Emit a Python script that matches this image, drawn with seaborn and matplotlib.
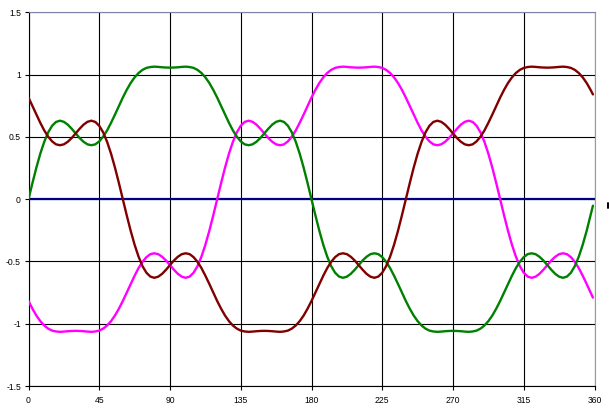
import matplotlib
matplotlib.use("Agg")
import matplotlib.pyplot as plt
import seaborn as sns
import pandas as pd
from matplotlib.lines import Line2D

# ---- data (angle step 2.5 degrees, last sample at 359) ----
angles = [i * 2.5 for i in range(144)] + [359]

green_vals = [
    0.000, 0.130, 0.254, 0.366, 0.461, 0.537, 0.590, 0.621, 0.631, 0.622, 0.599, 0.566,
    0.529, 0.492, 0.462, 0.441, 0.434, 0.441, 0.465, 0.503, 0.553, 0.614, 0.680, 0.749,
    0.817, 0.879, 0.934, 0.979, 1.014, 1.039, 1.055, 1.062, 1.065, 1.063, 1.060, 1.058,
    1.057, 1.058, 1.060, 1.063, 1.065, 1.062, 1.055, 1.039, 1.014, 0.979, 0.934, 0.879,
    0.817, 0.749, 0.680, 0.614, 0.553, 0.503, 0.465, 0.441, 0.434, 0.441, 0.462, 0.492,
    0.529, 0.566, 0.599, 0.622, 0.631, 0.621, 0.590, 0.537, 0.461, 0.366, 0.254, 0.130,
    0.000, -0.130, -0.254, -0.366, -0.461, -0.537, -0.590, -0.621, -0.631, -0.622, -0.599, -0.566,
    -0.529, -0.492, -0.462, -0.441, -0.434, -0.441, -0.465, -0.503, -0.553, -0.614, -0.680, -0.749,
    -0.817, -0.879, -0.934, -0.979, -1.014, -1.039, -1.055, -1.062, -1.065, -1.063, -1.060, -1.058,
    -1.057, -1.058, -1.060, -1.063, -1.065, -1.062, -1.055, -1.039, -1.014, -0.979, -0.934, -0.879,
    -0.817, -0.749, -0.680, -0.614, -0.553, -0.503, -0.465, -0.441, -0.434, -0.441, -0.462, -0.492,
    -0.529, -0.566, -0.599, -0.622, -0.631, -0.621, -0.590, -0.537, -0.461, -0.366, -0.254, -0.130,
    -0.052]

maroon_vals = [
    0.817, 0.749, 0.680, 0.614, 0.553, 0.503, 0.465, 0.441, 0.434, 0.441, 0.462, 0.492,
    0.529, 0.566, 0.599, 0.622, 0.631, 0.621, 0.590, 0.537, 0.461, 0.366, 0.254, 0.130,
    0.000, -0.130, -0.254, -0.366, -0.461, -0.537, -0.590, -0.621, -0.631, -0.622, -0.599, -0.566,
    -0.529, -0.492, -0.462, -0.441, -0.434, -0.441, -0.465, -0.503, -0.553, -0.614, -0.680, -0.749,
    -0.817, -0.879, -0.934, -0.979, -1.014, -1.039, -1.055, -1.062, -1.065, -1.063, -1.060, -1.058,
    -1.057, -1.058, -1.060, -1.063, -1.065, -1.062, -1.055, -1.039, -1.014, -0.979, -0.934, -0.879,
    -0.817, -0.749, -0.680, -0.614, -0.553, -0.503, -0.465, -0.441, -0.434, -0.441, -0.462, -0.492,
    -0.529, -0.566, -0.599, -0.622, -0.631, -0.621, -0.590, -0.537, -0.461, -0.366, -0.254, -0.130,
    0.000, 0.130, 0.254, 0.366, 0.461, 0.537, 0.590, 0.621, 0.631, 0.622, 0.599, 0.566,
    0.529, 0.492, 0.462, 0.441, 0.434, 0.441, 0.465, 0.503, 0.553, 0.614, 0.680, 0.749,
    0.817, 0.879, 0.934, 0.979, 1.014, 1.039, 1.055, 1.062, 1.065, 1.063, 1.060, 1.058,
    1.057, 1.058, 1.060, 1.063, 1.065, 1.062, 1.055, 1.039, 1.014, 0.979, 0.934, 0.879,
    0.842]

magenta_vals = [
    -0.817, -0.879, -0.934, -0.979, -1.014, -1.039, -1.055, -1.062, -1.065, -1.063, -1.060, -1.058,
    -1.057, -1.058, -1.060, -1.063, -1.065, -1.062, -1.055, -1.039, -1.014, -0.979, -0.934, -0.879,
    -0.817, -0.749, -0.680, -0.614, -0.553, -0.503, -0.465, -0.441, -0.434, -0.441, -0.462, -0.492,
    -0.529, -0.566, -0.599, -0.622, -0.631, -0.621, -0.590, -0.537, -0.461, -0.366, -0.254, -0.130,
    0.000, 0.130, 0.254, 0.366, 0.461, 0.537, 0.590, 0.621, 0.631, 0.622, 0.599, 0.566,
    0.529, 0.492, 0.462, 0.441, 0.434, 0.441, 0.465, 0.503, 0.553, 0.614, 0.680, 0.749,
    0.817, 0.879, 0.934, 0.979, 1.014, 1.039, 1.055, 1.062, 1.065, 1.063, 1.060, 1.058,
    1.057, 1.058, 1.060, 1.063, 1.065, 1.062, 1.055, 1.039, 1.014, 0.979, 0.934, 0.879,
    0.817, 0.749, 0.680, 0.614, 0.553, 0.503, 0.465, 0.441, 0.434, 0.441, 0.462, 0.492,
    0.529, 0.566, 0.599, 0.622, 0.631, 0.621, 0.590, 0.537, 0.461, 0.366, 0.254, 0.130,
    0.000, -0.130, -0.254, -0.366, -0.461, -0.537, -0.590, -0.621, -0.631, -0.622, -0.599, -0.566,
    -0.529, -0.492, -0.462, -0.441, -0.434, -0.441, -0.465, -0.503, -0.553, -0.614, -0.680, -0.749,
    -0.790]

x_ticks = [0, 45, 90, 135, 180, 225, 270, 315, 360]
x_tick_labels = ["0", "45", "90", "135", "180", "225", "270", "315", "360"]
y_ticks = [-1.5, -1, -0.5, 0, 0.5, 1, 1.5]
y_tick_labels = ["-1.5", "-1", "-0.5", "0", "0.5", "1", "1.5"]

# ---- styling ----
sns.set_theme(style="white")
plt.rcParams["font.family"] = ["Liberation Sans", "DejaVu Sans"]
plt.rcParams["axes.unicode_minus"] = False

fig = plt.figure(figsize=(6.09, 4.11), dpi=100)
ax = fig.add_axes([28.5 / 609, 1 - 386 / 411, (594.5 - 28.5) / 609, (386 - 12.5) / 411])
ax.set_facecolor("white")

df = pd.DataFrame({"x": angles, "green": green_vals, "maroon": maroon_vals, "magenta": magenta_vals})

ax.axhline(0, color="#000080", lw=1.6, zorder=2)
sns.lineplot(data=df, x="x", y="magenta", color="#FF00FF", lw=1.7, ax=ax, zorder=3)
sns.lineplot(data=df, x="x", y="green", color="#008000", lw=1.7, ax=ax, zorder=3)
sns.lineplot(data=df, x="x", y="maroon", color="#800000", lw=1.7, ax=ax, zorder=3)

ax.set_xlim(0, 360)
ax.set_ylim(-1.5, 1.5)
ax.set_xticks(x_ticks)
ax.set_xticklabels(x_tick_labels)
ax.set_yticks(y_ticks)
ax.set_yticklabels(y_tick_labels)
ax.set_xlabel("")
ax.set_ylabel("")

ax.grid(True, color="black", lw=0.8)
ax.set_axisbelow(True)

ax.tick_params(axis="both", which="major", labelsize=6.2, colors="black",
               length=3, width=0.8, direction="out")
ax.tick_params(axis="x", pad=4)
ax.tick_params(axis="y", pad=2.5)
ax.xaxis.set_ticks_position("bottom")
ax.yaxis.set_ticks_position("left")

for side in ["left", "bottom"]:
    ax.spines[side].set_color("black")
    ax.spines[side].set_linewidth(0.8)
ax.spines["top"].set_color("#8080A8")
ax.spines["top"].set_linewidth(0.8)
ax.spines["right"].set_color("#9A9A9A")
ax.spines["right"].set_linewidth(0.8)

legend = ax.get_legend()
if legend is not None:
    legend.remove()

# small legend remnant at right edge
fig.add_artist(Line2D([607.5 / 609, 607.5 / 609], [1 - 203 / 411, 1 - 208 / 411],
                      color="black", lw=1.4, transform=fig.transFigure))

fig.savefig("out.png", dpi=100, facecolor="white")
